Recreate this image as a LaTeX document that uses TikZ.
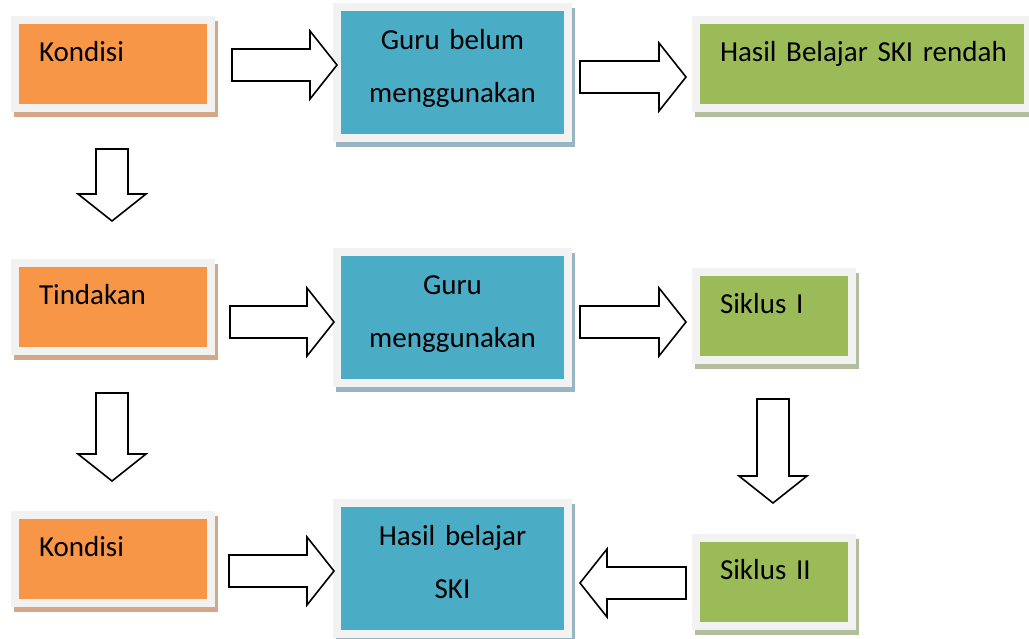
\documentclass[tikz,border=0pt]{standalone}
\usepackage{fontspec}
\setmainfont{Carlito}
\usetikzlibrary{calc,shadows}
\definecolor{oranye}{HTML}{F79646}
\definecolor{biru}{HTML}{4BACC6}
\definecolor{hijau}{HTML}{9BBB59}
\definecolor{bingkai}{HTML}{F2F2F2}
\definecolor{bayangoranye}{HTML}{D4A886}
\definecolor{bayangbiru}{HTML}{98B6C2}
\definecolor{bayanghijau}{HTML}{B2BE9C}
\DeclareRobustCommand\hurufkotak{\fontsize{29pt}{53pt}\selectfont\spaceskip=4.8pt\relax}
\tikzset{
 kotak/.style={rectangle, draw=bingkai, line width=8pt, outer sep=0pt, anchor=north west,
  inner ysep=0pt, font=\hurufkotak,
  drop shadow={shadow xshift=3pt, shadow yshift=-5pt, opacity=1, draw=#1, fill=#1, line width=8pt}},
 kotakoranye/.style={kotak=bayangoranye, fill=oranye},
 kotakbiru/.style={kotak=bayangbiru, fill=biru},
 kotakhijau/.style={kotak=bayanghijau, fill=hijau},
 satu/.style={inner xsep=24pt, text width=#1, align=left, text height=41pt, text depth=47pt},
 dua/.style={inner xsep=10pt, text width=211pt, align=center, text height=42pt, text depth=89pt},
 panah/.style={draw=black, line width=1.6pt, fill=white, line join=miter}
}
\newcommand\blokpanah[2]{%
 \coordinate (pb) at ($(#2)!27pt!(#1)$);
 \draw[panah] ($(#1)!16pt!90:(#2)$) -- ($(pb)!16pt!90:(#2)$) -- ($(pb)!34pt!90:(#2)$) -- (#2)
  -- ($(pb)!34pt!-90:(#2)$) -- ($(pb)!16pt!-90:(#2)$) -- ($(#1)!16pt!-90:(#2)$) -- cycle;}
\begin{document}
\begin{tikzpicture}[x=1pt,y=-1pt]
 \useasboundingbox (0,0) rectangle (1029,638);
 \node[kotakoranye, satu=148pt] (kondisi1) at (15,20) {Kondisi};
 \node[kotakbiru, dua] (gurubelum) at (337,7) {Guru belum\\menggunakan};
 \node[kotakhijau, satu=284pt] (rendah) at (696,20) {\mbox{Hasil Belajar SKI rendah}};
 \node[kotakoranye, satu=148pt] (tindakan) at (15,263) {Tindakan};
 \node[kotakbiru, dua] (guruguna) at (337,252) {Guru\\menggunakan};
 \node[kotakhijau, satu=108pt] (siklus1) at (696,272) {Siklus I};
 \node[kotakhijau, satu=108pt] (siklus2) at (696,538) {Siklus II};
 \node[kotakoranye, satu=148pt] (kondisi2) at (15,515) {Kondisi};
 \node[kotakbiru, dua] (hasil) at (337,503) {Hasil belajar\\SKI};

 \coordinate (p1) at ([shift={(21,1)}]kondisi1.east);
 \coordinate (p2) at (gurubelum.west |- p1);
 \coordinate (p3) at ([shift={(12,4.5)}]gurubelum.east);
 \path (rendah.west |- p3) ++(-10,0) coordinate (p4);
 \coordinate (p5) at ([shift={(-1,41)}]kondisi1.south);
 \coordinate (p6) at ([shift={(-1,-42)}]tindakan.north);
 \coordinate (p7) at ([shift={(19,15)}]tindakan.east);
 \path (guruguna.west |- p7) ++(-3,0) coordinate (p8);
 \coordinate (p9) at ([shift={(12,4.5)}]guruguna.east);
 \path (siklus1.west |- p9) ++(-10,0) coordinate (p10);
 \coordinate (p11) at ([shift={(-1,42)}]tindakan.south);
 \coordinate (p12) at ([shift={(-1,-34)}]kondisi2.north);
 \coordinate (p13) at ([shift={(-1,39)}]siklus1.south);
 \coordinate (p14) at ([shift={(-1,-35)}]siklus2.north);
 \coordinate (p15) at ([shift={(-10,1)}]siklus2.west);
 \path (hasil.east |- p15) ++(12,0) coordinate (p16);
 \coordinate (p17) at ([shift={(18,12)}]kondisi2.east);
 \path (hasil.west |- p17) ++(-3,0) coordinate (p18);

 \blokpanah{p1}{p2}
 \blokpanah{p3}{p4}
 \blokpanah{p5}{p6}
 \blokpanah{p7}{p8}
 \blokpanah{p9}{p10}
 \blokpanah{p11}{p12}
 \blokpanah{p13}{p14}
 \blokpanah{p15}{p16}
 \blokpanah{p17}{p18}
\end{tikzpicture}
\end{document}
